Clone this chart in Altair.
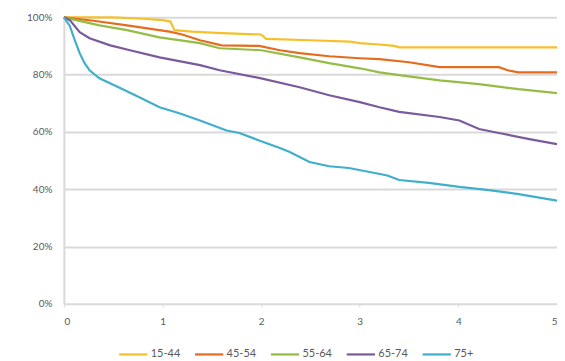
import altair as alt
import pandas as pd

groups = ["15-44", "45-54", "55-64", "65-74", "75+"]
colors = ["#F6C02A", "#E46C1E", "#95BC45", "#7B5A9C", "#3FAFCB"]

t_1544 = [0, 0.5, 0.8, 1.0, 1.08, 1.12, 1.3, 1.6, 2.0, 2.05, 2.5, 2.9, 3.0, 3.2, 3.35, 3.4, 5.0]
v_1544 = [100, 100, 99.5, 99, 98.5, 95.5, 95, 94.5, 94, 92.5, 92, 91.5, 91, 90.5, 90, 89.5, 89.5]

t_4554 = [0, 0.3, 0.64, 1.07, 1.2, 1.38, 1.6, 1.98, 2.19, 2.39, 2.69, 3.0, 3.2, 3.5, 3.81, 4.41, 4.5, 4.61, 5.0]
v_4554 = [100, 98.8, 97.2, 95, 94, 92, 90.2, 90, 88.5, 87.5, 86.4, 85.7, 85.4, 84.3, 82.6, 82.6, 81.5, 80.8, 80.8]

t_5564 = [0, 0.36, 0.64, 0.97, 1.38, 1.58, 2.0, 2.39, 2.69, 3.0, 3.2, 3.4, 3.81, 4.21, 4.61, 5.0]
v_5564 = [100, 97.2, 95.5, 93, 91, 89.2, 88.5, 86, 84, 82.2, 80.8, 79.8, 78, 76.7, 74.9, 73.5]

t_6574 = [0, 0.06, 0.16, 0.26, 0.47, 0.67, 0.97, 1.38, 1.58, 2.0, 2.39, 2.69, 3.0, 3.2, 3.4, 3.81, 4.01, 4.21, 4.41, 4.72, 5.0]
v_6574 = [100, 99, 94.8, 92.7, 90.2, 88.5, 86, 83.3, 81.5, 78.7, 75.6, 72.8, 70.4, 68.6, 67, 65.2, 64, 61, 59.6, 57.5, 55.7]

t_75 = [0, 0.06, 0.11, 0.16, 0.21, 0.26, 0.36, 0.57, 0.77, 0.97, 1.17, 1.38, 1.65, 1.78, 1.98, 2.19, 2.29, 2.49, 2.69, 2.89, 3.10, 3.28, 3.40, 3.70, 4.01, 4.31, 4.61, 5.0]
v_75 = [100, 97, 92, 87.5, 84, 81.5, 78.7, 75.3, 72, 68.6, 66.5, 64, 60.5, 59.6, 57, 54.4, 53, 49.5, 48, 47.4, 46, 44.8, 43.2, 42.2, 40.8, 39.7, 38.3, 36]

series = [(groups[0], t_1544, v_1544), (groups[1], t_4554, v_4554), (groups[2], t_5564, v_5564),
          (groups[3], t_6574, v_6574), (groups[4], t_75, v_75)]

rows = []
for g, ts, vs in series:
    for i, (t, v) in enumerate(zip(ts, vs)):
        rows.append({"group": g, "t": t, "v": v / 100.0, "order": i})
df = pd.DataFrame(rows)

font = "Lato"
chart = alt.Chart(df).mark_line(strokeWidth=2.2).encode(
    x=alt.X("t:Q", scale=alt.Scale(domain=[0, 5], nice=False),
            axis=alt.Axis(values=[0, 1, 2, 3, 4, 5], title=None, grid=False,
                          domain=False, tickSize=3, tickColor="#D9D9D9",
                          labelPadding=10, labelFontSize=10, labelColor="#595959",
                          labelFont=font)),
    y=alt.Y("v:Q", scale=alt.Scale(domain=[0, 1], nice=False),
            axis=alt.Axis(values=[0, 0.2, 0.4, 0.6, 0.8, 1.0], format=".0%", title=None,
                          grid=True, gridColor="#D9D9D9", gridWidth=2,
                          domain=True, domainColor="#D9D9D9", domainWidth=2,
                          ticks=False, labelPadding=12, labelFontSize=10,
                          labelColor="#595959", labelFont=font)),
    color=alt.Color("group:N", scale=alt.Scale(domain=groups, range=colors),
                    legend=alt.Legend(orient="none", direction="horizontal",
                                      legendX=54, legendY=322, title=None,
                                      symbolType="stroke", symbolSize=800,
                                      symbolStrokeWidth=2.2, labelFontSize=11,
                                      labelColor="#595959", labelFont=font,
                                      columnPadding=9, labelOffset=2)),
    order="order:Q",
).properties(
    width=494, height=287,
    autosize=alt.AutoSizeParams(type="none"),
    padding={"left": 56, "top": 9, "right": 0, "bottom": 57},
).configure_view(stroke=None)

chart.save("out.html", embed_options={"renderer": "svg", "actions": False})
